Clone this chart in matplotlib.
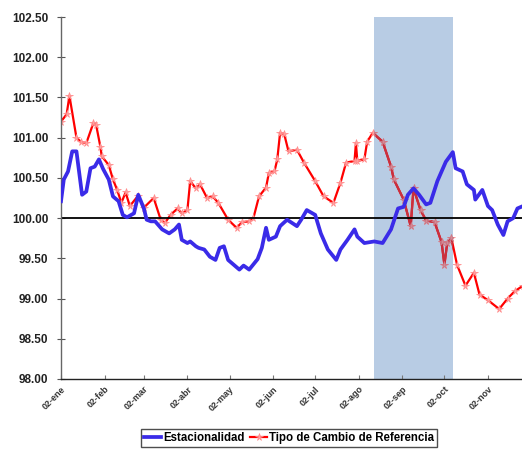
import numpy as np
import matplotlib
matplotlib.use("Agg")
import matplotlib.pyplot as plt

plt.rcParams['font.family'] = ['Liberation Sans', 'DejaVu Sans']

YEAR = "2007"

tc_dates = ["01-02", "01-06", "01-08", "01-13", "01-16", "01-20", "01-25", "01-27", "01-30", "01-31",
            "02-05", "02-08", "02-11", "02-14", "02-17", "02-20", "02-26", "03-02", "03-09", "03-14",
            "03-17", "03-21", "03-26", "03-29", "04-02", "04-04", "04-08", "04-11", "04-16", "04-20",
            "04-24", "05-01", "05-07", "05-11", "05-16", "05-19", "05-23", "05-28", "05-30", "06-03",
            "06-05", "06-07", "06-10", "06-13", "06-19", "06-24", "07-02", "07-08", "07-15", "07-20",
            "07-24", "07-30", "07-31", "08-01", "08-06", "08-08", "08-12", "08-19", "08-25", "08-27",
            "09-03", "09-08", "09-10", "09-15", "09-19", "09-25", "09-30", "10-02", "10-04", "10-07",
            "10-11", "10-17", "10-23", "10-27", "11-02", "11-10", "11-16", "11-21", "11-27"]
tc_values = [101.20, 101.29, 101.52, 101.00, 100.95, 100.93, 101.18, 101.16, 100.89, 100.77,
             100.66, 100.48, 100.35, 100.19, 100.32, 100.15, 100.28, 100.13, 100.25, 99.98,
             99.94, 100.04, 100.12, 100.06, 100.10, 100.46, 100.37, 100.42, 100.25, 100.27,
             100.19, 99.98, 99.88, 99.95, 99.96, 100.00, 100.27, 100.38, 100.56, 100.58,
             100.73, 101.06, 101.04, 100.83, 100.85, 100.69, 100.46, 100.27, 100.19, 100.44,
             100.69, 100.71, 100.93, 100.71, 100.73, 100.95, 101.06, 100.95, 100.64, 100.48,
             100.23, 99.90, 100.37, 100.10, 99.97, 99.95, 99.70, 99.42, 99.69, 99.75,
             99.42, 99.16, 99.32, 99.05, 98.98, 98.87, 99.00, 99.09, 99.16]

est_dates = ["01-02", "01-04", "01-07", "01-10", "01-13", "01-17", "01-20", "01-23", "01-26", "01-29",
             "02-01", "02-05", "02-08", "02-12", "02-15", "02-18", "02-23", "02-26", "03-02", "03-04",
             "03-07", "03-10", "03-15", "03-20", "03-24", "03-27", "03-29", "04-02", "04-04", "04-08",
             "04-10", "04-14", "04-18", "04-22", "04-25", "04-28", "05-01", "05-05", "05-09", "05-12",
             "05-16", "05-22", "05-25", "05-28", "05-30", "06-04", "06-07", "06-12", "06-19", "06-22",
             "06-26", "07-02", "07-06", "07-11", "07-17", "07-20", "07-25", "07-30", "08-01", "08-06",
             "08-13", "08-19", "08-25", "08-30", "09-03", "09-06", "09-10", "09-14", "09-19", "09-22",
             "09-27", "10-03", "10-08", "10-10", "10-15", "10-18", "10-23", "10-24", "10-29", "11-02",
             "11-05", "11-09", "11-13", "11-16", "11-20", "11-23", "11-27"]
est_values = [100.21, 100.48, 100.58, 100.83, 100.83, 100.29, 100.33, 100.62, 100.64, 100.73,
              100.61, 100.48, 100.27, 100.21, 100.04, 100.01, 100.06, 100.29, 100.12, 99.98,
              99.96, 99.96, 99.86, 99.81, 99.86, 99.92, 99.73, 99.69, 99.71, 99.65,
              99.63, 99.61, 99.52, 99.48, 99.63, 99.65, 99.48, 99.42, 99.36, 99.41,
              99.36, 99.49, 99.63, 99.88, 99.73, 99.77, 99.90, 99.98, 99.90, 99.98,
              100.10, 100.04, 99.81, 99.61, 99.48, 99.61, 99.73, 99.86, 99.77, 99.69,
              99.71, 99.69, 99.86, 100.12, 100.14, 100.29, 100.37, 100.29, 100.17, 100.19,
              100.46, 100.70, 100.82, 100.62, 100.58, 100.42, 100.35, 100.23, 100.35, 100.15,
              100.10, 99.92, 99.79, 99.96, 100.00, 100.12, 100.15]

month_labels = ["02-ene", "02-feb", "02-mar", "02-abr", "02-may", "02-jun",
                "02-jul", "02-ago", "02-sep", "02-oct", "02-nov"]
shade_start, shade_end = "08-13", "10-08"
x_start, x_end = "01-02", "11-27"


def to_dates(md):
    return np.array([np.datetime64(f"{YEAR}-{s}") for s in md]).astype("datetime64[D]").astype(object)


tc_x = to_dates(tc_dates)
est_x = to_dates(est_dates)

W, H = 522, 449
fig = plt.figure(figsize=(W / 100, H / 100), dpi=100)
ax = fig.add_axes([61 / W, 1 - 379 / H, 1 - 61 / W + 0.002, (379 - 17) / H])

s0, s1 = to_dates([shade_start, shade_end])
band = ax.axvspan(s0, s1, color="#b8cce4", zorder=0, lw=0)

ax.axhline(100, color="black", lw=1.3, zorder=2.5)

red, = ax.plot(tc_x, tc_values, color="#ff0000", lw=1.6, marker="*", ms=5.5,
               mfc="#ffa0a0", mec="#ff8c8c", mew=0.5, zorder=2,
               label="Tipo de Cambio de Referencia")
# muted tone of the same series inside the shaded band
red_in_band, = ax.plot(tc_x, tc_values, color="#c8303f", lw=1.6, marker="*", ms=5.5,
                       mfc="#d48a96", mec="#c87886", mew=0.5, zorder=2.1)
red_in_band.set_clip_path(band)

blue, = ax.plot(est_x, est_values, color="#3a2be8", lw=2.7, zorder=4,
                solid_joinstyle="round", label="Estacionalidad")

xs, xe = to_dates([x_start, x_end])
ax.set_xlim(xs, xe)
ax.set_ylim(98.0, 102.5)

ax.set_yticks(np.arange(98.0, 102.51, 0.5))
ax.set_yticklabels([f"{v:.2f}" for v in np.arange(98.0, 102.51, 0.5)],
                   fontsize=8.5, fontweight="bold", color="#222222")
ax.tick_params(axis="y", direction="inout", length=6, width=0.8, color="#555555", pad=6)

tick_dates = to_dates([f"{m:02d}-02" for m in range(1, 12)])
ax.set_xticks(tick_dates)
ax.set_xticklabels(month_labels, rotation=45, ha="right", va="top",
                   rotation_mode="anchor", fontsize=6.5, fontweight="bold", color="#333333")
ax.tick_params(axis="x", direction="in", length=3, width=0.8, color="#777777", pad=4)

for side in ("top", "right"):
    ax.spines[side].set_visible(False)
ax.spines["left"].set_color("#666666")
ax.spines["left"].set_linewidth(1.0)
ax.spines["bottom"].set_color("#222222")
ax.spines["bottom"].set_linewidth(1.0)

leg = fig.legend(handles=[blue, red], loc="upper center",
                 bbox_to_anchor=(289 / W, 1 - 423 / H), ncol=2, frameon=True,
                 fancybox=False, edgecolor="#222222", handlelength=1.5,
                 handletextpad=0.15, columnspacing=0.5, borderpad=0.25,
                 prop={"size": 8.3, "weight": "bold"})
leg.get_frame().set_linewidth(1.0)

fig.savefig("out.png", dpi=100)
